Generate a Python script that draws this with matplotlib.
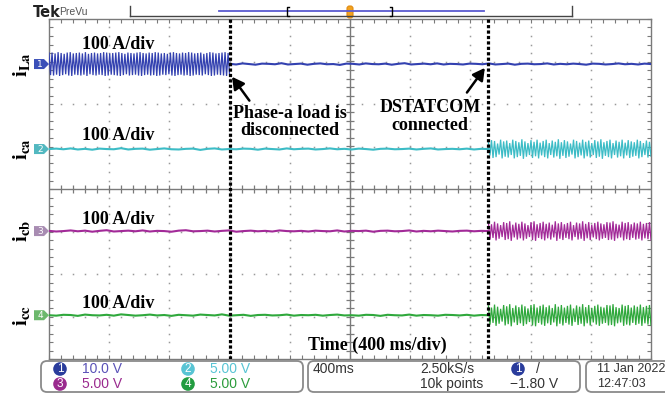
import numpy as np
import matplotlib.pyplot as plt
import matplotlib.transforms as mtransforms
from matplotlib.patches import FancyBboxPatch, Polygon, Circle

plt.rcParams['mathtext.fontset'] = 'stix'

W, H = 665, 396

# scope settings: 100 A/div, 400 ms/div, 10 x 8 divisions
amp_per_div = 100.0
t_disconnect = 3.0    # div, phase-a load is disconnected
t_dstatcom = 7.3      # div, DSTATCOM connected
offsets = [6.94, 4.94, 3.01, 1.03]   # channel baselines (div)

# oscillating parts: peak current of each 50 Hz cycle (A)
iLa_peaks = [26, 27, 25, 28, 26, 24, 27, 28, 25, 26, 27, 25, 28, 24, 26, 27, 25, 26, 28, 27,
             25, 26, 27, 28, 26, 24, 27, 26, 25, 27, 28, 26, 25, 27, 26, 28, 27, 25, 26, 24,
             27, 28, 26, 25, 27, 26, 28, 27, 25, 26, 27, 24, 26, 28, 27, 25, 26, 27, 28, 26]
ica_peaks = [15, 21, 19, 13, 22, 18, 20, 14, 22, 19, 16, 23, 18, 14, 21, 17, 22, 15, 19, 22,
             14, 20, 17, 23, 16, 21, 18, 13, 22, 19, 15, 22, 17, 20, 14, 21, 18, 23, 16, 19,
             22, 14, 20, 17, 22, 15, 21, 18, 16, 22, 19, 14, 20, 17]
icb_peaks = [20, 16, 22, 18, 14, 21, 19, 23, 15, 20, 17, 22, 18, 14, 21, 23, 16, 19, 22, 17,
             20, 15, 23, 18, 21, 16, 19, 22, 14, 20, 18, 23, 17, 21, 15, 19, 22, 18, 16, 21,
             20, 23, 17, 15, 22, 19, 21, 16, 20, 18, 22, 17, 19, 21]
icc_peaks = [22, 18, 25, 20, 15, 24, 21, 26, 17, 23, 19, 25, 21, 16, 24, 26, 18, 22, 25, 19,
             23, 17, 26, 20, 24, 18, 22, 25, 16, 23, 20, 26, 19, 24, 17, 22, 25, 20, 18, 24,
             23, 26, 19, 17, 25, 22, 24, 18, 23, 20, 25, 19, 22, 24]

# near-zero parts: small ripple (A)
iLa_flat = [0.5, -1, 1.5, 0, -1.5, 1, 0.5, -0.5, 2, -1, 0, 1, -1.5, 0.5, 1.5, -0.5, 0, -2,
            1, 0.5, -1, 1.5, 0, -0.5, 1, -1.5, 0.5, 2, -1, 0, 1, -0.5, 1.5, -1, 0.5, 0,
            -1, 1, 0.5, -0.5, 1.5, -1, 0, 1, -1.5, 0.5, 1, -0.5, 0, 1.5, -1, 0.5, -0.5, 1,
            0, -1.5, 1, 0.5, -1, 0, 1.5, -0.5, 0.5, -1, 1, 0]
ica_flat = [0, 1, -0.5, 1.5, -1, 0.5, -1.5, 1, 0, -0.5, 2, -1, 0.5, 1, -1.5, 0, 1.5, -0.5,
            -1, 0.5, 1, -2, 0.5, 1.5, -1, 0, -0.5, 1, 0.5, -1.5, 1, 0, -1, 1.5, -0.5, 0.5,
            1, -1, 0, 1.5, -0.5, 0.5, -1, 1, 0, -1.5, 0.5, 1, -0.5, 0, 1, -1, 0.5, 1.5,
            -1, 0, 0.5, -0.5, 1, -1, 0.5, 0]
icb_flat = [0.5, -1, 0, 1.5, -0.5, 1, -1.5, 0.5, 2, -1, 0, 1, -0.5, 1.5, -1, 0.5, 0, -1.5,
            1, 2, -0.5, 0, 1, -1, 0.5, 1.5, -1.5, 0, 1, -0.5, 0.5, -1, 1.5, 0, -0.5, 0.5,
            -1, 1, 0, -0.5, 1.5, -1, 0.5, 0, 1, -1.5, 0.5, 1, -0.5, 0, 1.5, -1, 0.5, -0.5,
            1, 0, -1, 0.5, 1, -0.5, 0.5, 0]
icc_flat = [0, -1, 1, 0.5, -1.5, 1.5, 0, -0.5, 1, -1, 2, 0.5, -1, 0, 1.5, -0.5, 0.5, -1.5,
            1, 0, -1, 1.5, 0.5, -0.5, 2, -1, 0, 1, -1.5, 0.5, 1, -0.5, 0, 1.5, -1, 0.5,
            0, 1, -1, 0.5, 1.5, -0.5, 0, -1, 1, 0.5, -1.5, 1, 0, -0.5, 1.5, -1, 0.5, 0,
            -1, 1, 0.5, -0.5, 1, -1, 0.5, 0]

names = [r'$\mathbf{i_{La}}$', r'$\mathbf{i_{ca}}$', r'$\mathbf{i_{cb}}$', r'$\mathbf{i_{cc}}$']
colors = ['#3341b0', '#3cbcc6', '#a22a98', '#2fa83c']
marker_colors = ['#3a4fb8', '#52b8c0', '#a88cb2', '#6cb86c']


def osc(t0, t1, peaks):
    tt = np.linspace(t0, t1, 2 * len(peaks))
    vv = np.array([s * p for p in peaks for s in (1, -1)], dtype=float)
    return tt, vv


def flat(t0, t1, ripple):
    return np.linspace(t0, t1, len(ripple)), np.array(ripple, dtype=float)


traces = [
    [osc(0, t_disconnect, iLa_peaks), flat(t_disconnect, 10, iLa_flat)],
    [flat(0, t_dstatcom, ica_flat), osc(t_dstatcom, 10, ica_peaks)],
    [flat(0, t_dstatcom, icb_flat), osc(t_dstatcom, 10, icb_peaks)],
    [flat(0, t_dstatcom, icc_flat), osc(t_dstatcom, 10, icc_peaks)],
]

fig = plt.figure(figsize=(W / 100, H / 100), dpi=100)
# pixel coordinates measured from the top-left corner
pix = mtransforms.Affine2D().scale(1, -1).translate(0, H).scale(1 / 100) + fig.dpi_scale_trans

ax = fig.add_axes([49 / W, 1 - 359 / H, 602 / W, 340 / H])
ax.set_xlim(0, 10)
ax.set_ylim(0, 8)
for sp in ax.spines.values():
    sp.set_color('#7a7a7a')
    sp.set_linewidth(1.0)
ax.set_xticks(np.arange(0, 10.01, 0.2))
ax.set_yticks(np.arange(0, 8.01, 0.2))
ax.tick_params(direction='in', length=3, width=0.8, color='#7a7a7a',
               top=True, right=True, labelbottom=False, labelleft=False)

# graticule
fine_x = np.arange(0.2, 10, 0.2)
fine_y = np.arange(0.2, 8, 0.2)
for xv in [1, 2, 3, 4, 6, 7, 8, 9]:
    ax.plot(np.full_like(fine_y, xv), fine_y, ls='none', marker='s', ms=1.1,
            mfc='#9a9a9a', mec='none')
for yv in [1, 2, 3, 5, 6, 7]:
    ax.plot(fine_x, np.full_like(fine_x, yv), ls='none', marker='s', ms=1.1,
            mfc='#9a9a9a', mec='none')
ax.axhline(4, color='#7a7a7a', lw=1.0)
ax.axvline(5, color='#7a7a7a', lw=1.0)
ax.plot(fine_x, np.full_like(fine_x, 4), ls='none', marker='|', ms=6, mew=0.9, color='#7a7a7a')
ax.plot(np.full_like(fine_y, 5), fine_y, ls='none', marker='_', ms=6, mew=0.9, color='#7a7a7a')

# traces
for k, segs in enumerate(traces):
    for tt, vv in segs:
        is_osc = np.abs(vv).max() > 5
        ax.plot(tt, offsets[k] + vv / amp_per_div, color=colors[k],
                lw=0.9 if is_osc else 1.5, solid_joinstyle='miter', zorder=3)

# event markers
for tv in (t_disconnect, t_dstatcom):
    ax.axvline(tv, color='black', lw=2.3, ls=(0, (1.0, 0.7)), zorder=4)

serif = dict(family='Liberation Serif', weight='bold', size=13, color='black')
for yv in [7.41, 5.25, 3.28, 1.30]:
    ax.text(0.55, yv, '100 A/div', ha='left', va='center', zorder=5, **serif)

ax.annotate('Phase-a load is\ndisconnected', xy=(3.04, 6.64), xytext=(4.0, 5.58),
            ha='center', va='center', linespacing=1.05, zorder=5,
            arrowprops=dict(arrowstyle='-|>,head_length=0.55,head_width=0.3', color='black',
                            lw=1.8, shrinkA=1, shrinkB=0, relpos=(0.17, 1.0)),
            **serif)
ax.annotate('DSTATCOM\nconnected', xy=(7.24, 6.85), xytext=(6.33, 5.71),
            ha='center', va='center', linespacing=1.1, zorder=5,
            arrowprops=dict(arrowstyle='-|>,head_length=0.55,head_width=0.3', color='black',
                            lw=1.8, shrinkA=3, shrinkB=0, relpos=(0.82, 1.0)),
            **serif)
ax.text(5.46, 0.31, 'Time (400 ms/div)', ha='center', va='center', zorder=5, **serif)

# channel markers and trace names
for k, lv in enumerate(offsets):
    yp = 359 - lv * 42.5
    fig.patches.append(Polygon([(34, yp - 5), (44, yp - 5), (49, yp), (44, yp + 5), (34, yp + 5)],
                               closed=True, fc=marker_colors[k], ec='none', transform=pix))
    fig.text(40, yp, str(k + 1), transform=pix, ha='center', va='center', fontsize=6.5,
             color='white')
    fig.text(21, yp, names[k], transform=pix, ha='center', va='center', rotation=90,
             fontsize=15, color='black')

# header
fig.text(33, 17, 'Tek', transform=pix, fontsize=10.5, weight='bold', color='#222222')
fig.text(59, 15, 'PreVu', transform=pix, fontsize=7.5, color='#555555', family='Liberation Sans')
fig.add_artist(plt.Line2D([130, 572], [16, 16], color='#444444', lw=1.0, transform=pix))
for xv in (130, 572):
    fig.add_artist(plt.Line2D([xv, xv], [6, 16], color='#444444', lw=1.0, transform=pix))
fig.add_artist(plt.Line2D([219, 484], [11, 11], color='#5a5ad0', lw=1.3, transform=pix))
for xv, d in ((287, 2), (392, -2)):
    fig.add_artist(plt.Line2D([xv + d, xv, xv, xv + d], [7, 7, 16, 16], color='black',
                              lw=1.0, transform=pix))
fig.patches.append(FancyBboxPatch((347, 6), 6, 12, boxstyle='round,pad=0,rounding_size=2.5',
                                  fc='#f2a21e', ec='#e08a10', lw=0.8, transform=pix))

# status bar
sans = 'Liberation Sans'
for x0, w in ((41, 262), (308, 272), (586, 90)):
    fig.patches.append(FancyBboxPatch((x0, 361), w, 31, boxstyle='round,pad=0,rounding_size=6',
                                      fc='white', ec='#8a8a8a', lw=1.3, transform=pix))
ch_text = ['10.0 V', '5.00 V', '5.00 V', '5.00 V']
ch_col = ['#5a52b8', '#58c4d4', '#9a2a8e', '#2c9c3c']
ch_circle = ['#2a3c9c', '#58c4d4', '#9a2a8e', '#229c40']
ch_pos = [(60, 369), (188, 369), (60, 384), (188, 384)]
for k in range(4):
    cx, cy = ch_pos[k]
    fig.patches.append(Circle((cx, cy), 6.8, fc=ch_circle[k], ec='none', transform=pix))
    fig.text(cx, cy, str(k + 1), transform=pix, ha='center', va='center', fontsize=8.5,
             color='white', family=sans)
    fig.text(cx + 22, cy, ch_text[k], transform=pix, ha='left', va='center', fontsize=10,
             color=ch_col[k], family=sans)
grey = '#333333'
fig.text(313, 369, '400ms', transform=pix, ha='left', va='center', fontsize=10, color=grey, family=sans)
fig.text(420, 369, '2.50kS/s', transform=pix, ha='left', va='center', fontsize=10, color=grey, family=sans)
fig.text(420, 384, '10k points', transform=pix, ha='left', va='center', fontsize=10, color=grey, family=sans)
fig.patches.append(Circle((518, 369), 6.8, fc='#2a3c9c', ec='none', transform=pix))
fig.text(518, 369, '1', transform=pix, ha='center', va='center', fontsize=8.5, color='white', family=sans)
fig.text(536, 369, '/', transform=pix, ha='left', va='center', fontsize=10, color=grey, family=sans)
fig.text(510, 384, '\u22121.80 V', transform=pix, ha='left', va='center', fontsize=10, color=grey, family=sans)
fig.text(597, 369, '11 Jan 2022', transform=pix, ha='left', va='center', fontsize=9, color=grey, family=sans)
fig.text(597, 384, '12:47:03', transform=pix, ha='left', va='center', fontsize=9, color=grey, family=sans)

fig.savefig('out.png', dpi=100, facecolor='white')
